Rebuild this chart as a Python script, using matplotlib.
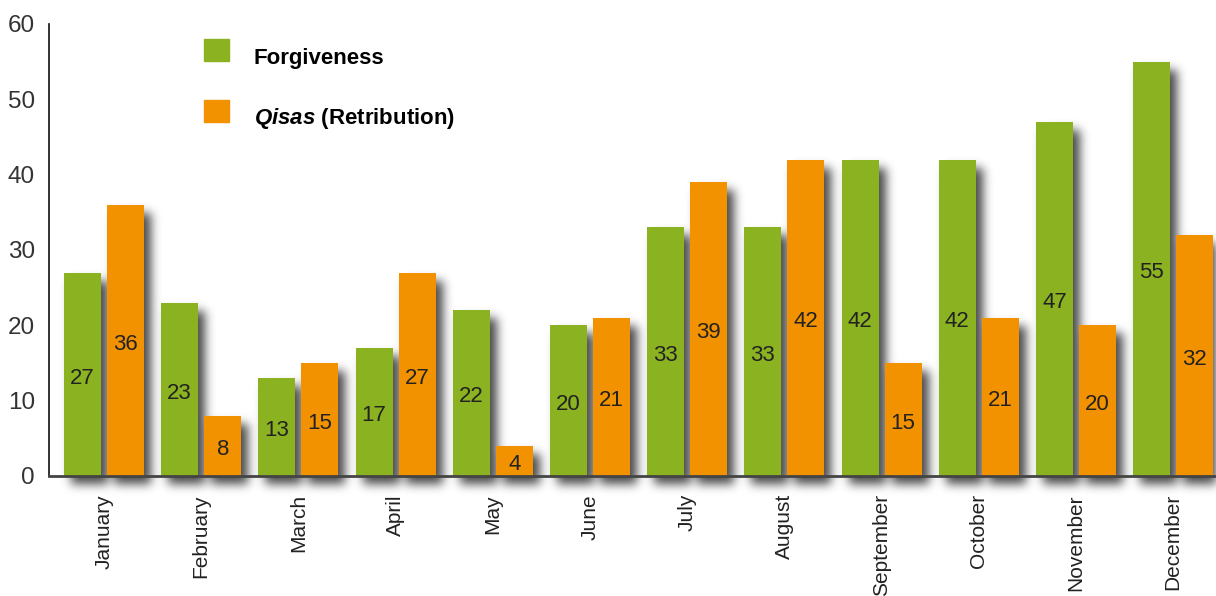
import numpy as np
import matplotlib
matplotlib.use("Agg")
import matplotlib.pyplot as plt
from matplotlib.patches import Patch

plt.rcParams["font.family"] = ["Liberation Sans", "DejaVu Sans"]
plt.rcParams["mathtext.fontset"] = "custom"
plt.rcParams["mathtext.it"] = "Liberation Sans:italic:bold"
plt.rcParams["mathtext.rm"] = "Liberation Sans:bold"

months = ["January", "February", "March", "April", "May", "June", "July",
          "August", "September", "October", "November", "December"]
forgiveness = [27, 23, 13, 17, 22, 20, 33, 33, 42, 42, 47, 55]
qisas = [36, 8, 15, 27, 4, 21, 39, 42, 15, 21, 20, 32]
yticks = [0, 10, 20, 30, 40, 50, 60]

GREEN = "#8BB220"
ORANGE = "#F39200"

W, H = 1216, 596
fig = plt.figure(figsize=(W/100, H/100), dpi=100)
ax = fig.add_axes([49/W, 1-476/H, 1-49/W, (476-24)/H])
ax.patch.set_visible(False)

x = np.arange(len(months))
w, off = 0.38, 0.221
b1 = ax.bar(x - off, forgiveness, w, color=GREEN, zorder=3)
b2 = ax.bar(x + off, qisas, w, color=ORANGE, zorder=3)

for bars, vals in [(b1, forgiveness), (b2, qisas)]:
    for p, v in zip(bars, vals):
        ax.text(p.get_x() + p.get_width()/2, v/2 - 0.5, str(v), ha="center", va="center",
                fontsize=16, color="#222222", zorder=4)

ax.set_xlim(-0.566, len(months) - 1 + 0.44)
ax.set_ylim(0, 60)
ax.set_yticks(yticks)
ax.set_xticks(x)
ax.set_xticklabels(months, rotation=90, fontsize=15, color="#222222")
ax.tick_params(axis="y", length=0, pad=10, labelsize=17.5, labelcolor="#333333")
ax.tick_params(axis="x", length=0, pad=13)
for s in ["top", "right"]:
    ax.spines[s].set_visible(False)
ax.spines["left"].set_color("#111111")
ax.spines["left"].set_linewidth(1.2)
ax.spines["bottom"].set_color("#444444")
ax.spines["bottom"].set_linewidth(2)
ax.spines["bottom"].set_zorder(5)

# soft drop shadow: rasterise the bar rectangles (display coords), shift, blur
mask = np.zeros((H, W))
dx, dy = 7, 8
for p in list(b1) + list(b2):
    bb = p.get_window_extent()
    x0, x1 = int(round(bb.x0)) + dx, int(round(bb.x1)) + dx
    y0, y1 = int(round(bb.y0)) - dy, int(round(bb.y1)) - dy
    mask[max(y0, 0):max(y1, 0), max(x0, 0):min(x1, W)] = 1.0
sig = 5.0
r = int(3 * sig)
k = np.exp(-0.5 * (np.arange(-r, r + 1) / sig) ** 2)
k /= k.sum()
for axis in (0, 1):
    pad = [(0, 0), (0, 0)]
    pad[axis] = (r, r)
    mp = np.pad(mask, pad)
    out = np.zeros_like(mask)
    n = mask.shape[axis]
    for i, kv in enumerate(k):
        out += kv * (mp[i:i + n, :] if axis == 0 else mp[:, i:i + n])
    mask = out
rgba = np.zeros((H, W, 4))
rgba[..., 3] = np.clip(mask * 0.72, 0, 1)
fig.figimage(rgba, 0, 0, origin="lower", zorder=-1)

handles = [Patch(color=GREEN), Patch(color=ORANGE)]
labels = ["Forgiveness", r"$\it{Qisas}$ (Retribution)"]
leg = ax.legend(handles, labels, loc="upper left", bbox_to_anchor=(0.116, 1.01), frameon=False,
                prop={"size": 16, "weight": "bold"},
                handlelength=1.13, handleheight=1.13, handletextpad=1.1, labelspacing=1.67)
for t in leg.get_texts():
    t.set_y(-6)

fig.savefig("out.png", dpi=100)
